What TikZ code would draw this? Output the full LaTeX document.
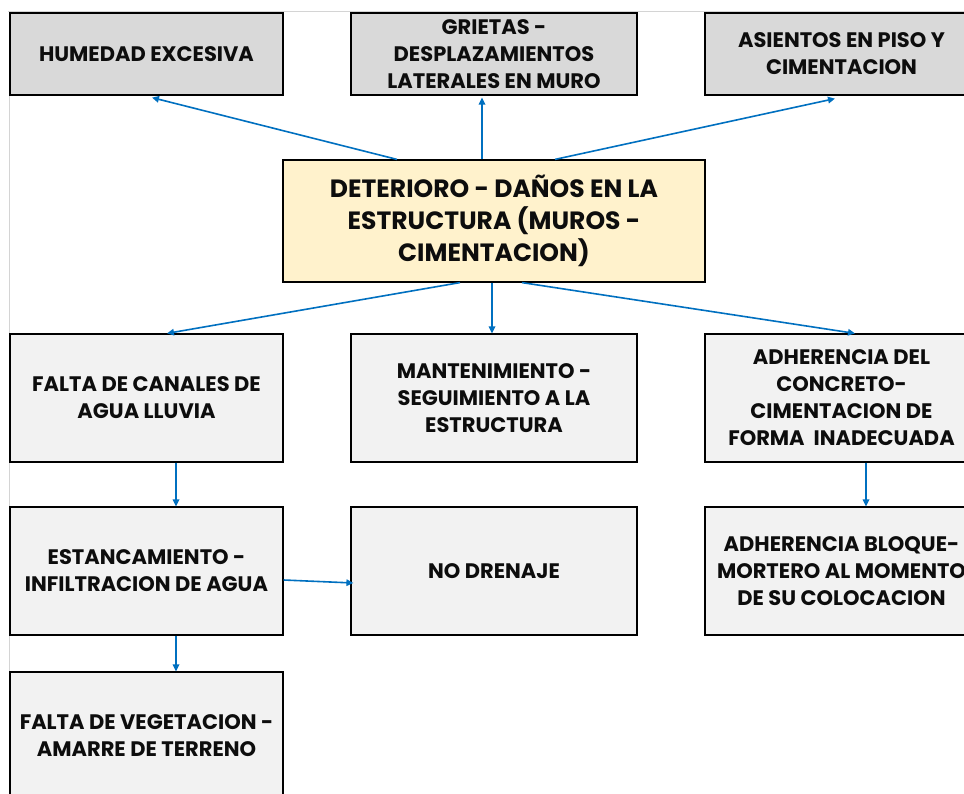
\documentclass[tikz,border=0pt]{standalone}
\usepackage{fontspec}
\setmainfont{Poppins}
\usetikzlibrary{arrows.meta}
\definecolor{topfill}{HTML}{D9D9D9}
\definecolor{lowfill}{HTML}{F2F2F2}
\definecolor{cenfill}{HTML}{FFF2CC}
\definecolor{arrblue}{HTML}{0070C0}
\definecolor{framegray}{HTML}{D4D4D4}
\tikzset{
  box/.style={draw=black, line width=1.2pt, align=center, inner sep=2pt,
    font=\fontsize{21}{27}\selectfont\bfseries, text=black!95},
  topbox/.style={box, fill=topfill, minimum width=273pt, minimum height=82pt},
  midtop/.style={box, fill=topfill, minimum width=286pt, minimum height=82pt},
  lowbox/.style={box, fill=lowfill, minimum width=273pt, minimum height=128pt},
  midlow/.style={box, fill=lowfill, minimum width=286pt, minimum height=128pt},
  cenbox/.style={box, fill=cenfill, minimum width=422pt, minimum height=122pt,
    font=\fontsize{25}{32}\selectfont\bfseries},
  arr/.style={draw=arrblue, line width=1.6pt, -{Triangle[length=7pt,width=6.5pt]}}
}
\begin{document}
\begin{tikzpicture}[x=1pt,y=-1pt]
\useasboundingbox (0,0) rectangle (964,794);
\clip (0,0) rectangle (964,794);
\fill[white] (0,0) rectangle (964,794);
\draw[framegray, line width=1pt] (8,12) -- (964,12);
\draw[framegray, line width=1pt] (9,12) -- (9,794);
% top row
\node[topbox] (hum) at (146.5,54) {HUMEDAD EXCESIVA};
\node[midtop] (gri) at (494,54) {GRIETAS -\\DESPLAZAMIENTOS\\LATERALES EN MURO};
\node[topbox] (asi) at (841.5,54) {ASIENTOS EN PISO Y\\CIMENTACION};
% central
\node[cenbox] (cen) at (494,221) {DETERIORO - DAÑOS EN LA\\ESTRUCTURA (MUROS -\\CIMENTACION)};
% second row
\node[lowbox] (can) at (146.5,398) {FALTA DE CANALES DE\\AGUA LLUVIA};
\node[midlow] (man) at (494,398) {MANTENIMIENTO -\\SEGUIMIENTO A LA\\ESTRUCTURA};
\node[lowbox] (adc) at (841.5,398) {ADHERENCIA DEL\\CONCRETO-\\CIMENTACION DE\\FORMA~~INADECUADA};
% third row
\node[lowbox] (est) at (146.5,571) {ESTANCAMIENTO -\\INFILTRACION DE AGUA};
\node[midlow] (dre) at (494,571) {NO DRENAJE};
\node[lowbox] (adb) at (841.5,571) {ADHERENCIA BLOQUE-\\MORTERO AL MOMENTO\\DE SU COLOCACION};
% fourth row
\node[lowbox] (veg) at (146.5,736) {FALTA DE VEGETACION -\\AMARRE DE TERRENO};
% connectors
\draw[arr] ([xshift=-97pt]cen.north) -- ([xshift=5.5pt,yshift=-2pt]hum.south);
\draw[arr] ([xshift=-12pt]cen.north) -- ([xshift=-12pt,yshift=-2pt]gri.south);
\draw[arr] ([xshift=61pt]cen.north) -- ([xshift=-6.5pt,yshift=-3pt]asi.south);
\draw[arr] ([xshift=-34pt]cen.south) -- ([xshift=20.5pt]can.north);
\draw[arr] ([xshift=-2pt]cen.south) -- ([xshift=-2pt]man.north);
\draw[arr] ([xshift=28pt]cen.south) -- ([xshift=13.5pt]adc.north);
\draw[arr] ([xshift=29.5pt]can.south) -- ([xshift=29.5pt]est.north);
\draw[arr] ([xshift=24.5pt]adc.south) -- ([xshift=24.5pt]adb.north);
\draw[arr] ([yshift=-9pt]est.east) -- ([xshift=3pt,yshift=-12pt]dre.west);
\draw[arr] ([xshift=29.5pt]est.south) -- ([xshift=29.5pt]veg.north);
\end{tikzpicture}
\end{document}
